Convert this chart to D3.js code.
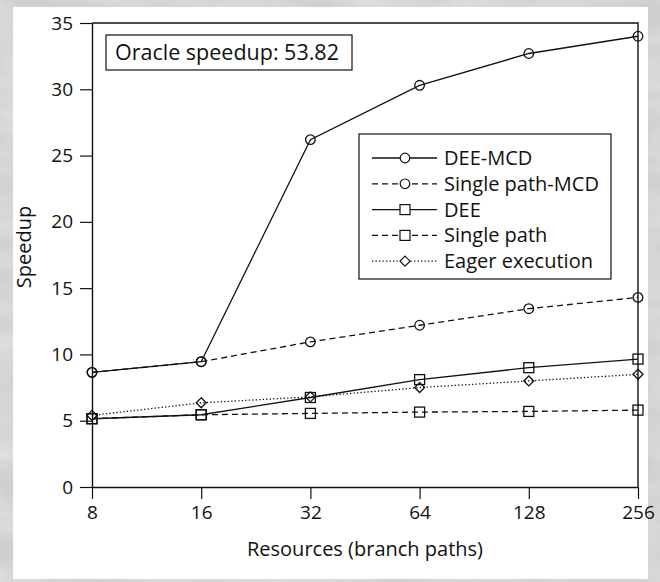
<!DOCTYPE html>
<html>
<head>
<meta charset="utf-8">
<script src="https://cdn.jsdelivr.net/npm/d3@7"></script>
<style>
	html, body { margin: 0; padding: 0; background: #c9c9c9; }
	svg { display: block; }
	text { font-family: 'Open Sans', 'DejaVu Sans', sans-serif; fill: #111; }
</style>
</head>
<body>
<svg id="chart" width="660" height="582"></svg>
<script>
const resources = [8, 16, 32, 64, 128, 256]
const yTicks = [0, 5, 10, 15, 20, 25, 30, 35]

const deeMcd = [8.65, 9.45, 26.2, 30.3, 32.7, 34.0]
const singlePathMcd = [8.65, 9.45, 10.95, 12.2, 13.45, 14.3]
const dee = [5.15, 5.45, 6.75, 8.1, 9.0, 9.65]
const singlePath = [5.15, 5.45, 5.55, 5.65, 5.7, 5.8]
const eager = [5.4, 6.35, 6.8, 7.5, 8.0, 8.5]

const seriesNames = ['DEE-MCD', 'Single path-MCD', 'DEE', 'Single path', 'Eager execution']
const oracleText = 'Oracle speedup: 53.82'

const width = 660
const height = 582
const margin = { top: 23, right: 22, bottom: 95, left: 92 }

const series = [
	{ name: seriesNames[0], values: deeMcd, dash: null, marker: 'circle' },
	{ name: seriesNames[1], values: singlePathMcd, dash: '6,4', marker: 'circle' },
	{ name: seriesNames[2], values: dee, dash: null, marker: 'square' },
	{ name: seriesNames[3], values: singlePath, dash: '6,4', marker: 'square' },
	{ name: seriesNames[4], values: eager, dash: '1.3,2.2', marker: 'diamond' }
]

const svg = d3.select('#chart')

// textured grey frame like the scanned page
const defs = svg.append('defs')
const filter = defs.append('filter').attr('id', 'marble')
	.attr('x', 0).attr('y', 0).attr('width', '100%').attr('height', '100%')
filter.append('feTurbulence')
	.attr('type', 'fractalNoise')
	.attr('baseFrequency', '0.012 0.03')
	.attr('numOctaves', 4)
	.attr('seed', 3)
filter.append('feColorMatrix')
	.attr('type', 'matrix')
	.attr('values', '0 0 0 0 0.76  0 0 0 0 0.76  0 0 0 0 0.76  0.9 0.9 0.9 0 -1.0')
	.attr('result', 'noise')
filter.append('feFlood').attr('flood-color', '#cfcfcf').attr('result', 'base')
filter.append('feComposite').attr('in', 'noise').attr('in2', 'base').attr('operator', 'over')

svg.append('rect')
	.attr('width', width).attr('height', height)
	.attr('filter', 'url(#marble)')

svg.append('rect')
	.attr('x', 13).attr('y', 7)
	.attr('width', 635).attr('height', 572)
	.attr('fill', '#fff')

const x = d3.scaleLog()
	.base(2)
	.domain([8, 256])
	.range([margin.left, width - margin.right])

const y = d3.scaleLinear()
	.domain([0, 35])
	.range([height - margin.bottom, margin.top])

const xAxis = d3.axisBottom(x)
	.tickValues(resources)
	.tickFormat(d3.format('d'))
	.tickSize(12)
	.tickSizeOuter(0)
	.tickPadding(7)

const yAxis = d3.axisLeft(y)
	.tickValues(yTicks)
	.tickSize(12)
	.tickSizeOuter(0)
	.tickPadding(7)

const gx = svg.append('g')
	.attr('transform', `translate(0,${y(0)})`)
	.call(xAxis)
const gy = svg.append('g')
	.attr('transform', `translate(${x(8)},0)`)
	.call(yAxis)

;[gx, gy].forEach((g) => {
	g.select('.domain').attr('stroke', '#111').attr('stroke-width', 1.4)
	g.selectAll('.tick line').attr('stroke', '#111').attr('stroke-width', 1.2)
	g.selectAll('.tick text')
		.attr('font-size', 19)
		.attr('font-family', null)
		.attr('fill', '#111')
})

// top and right frame lines
svg.append('path')
	.attr('d', `M${x(8)},${y(35)}H${x(256)}V${y(0)}`)
	.attr('fill', 'none')
	.attr('stroke', '#111')
	.attr('stroke-width', 1.4)

svg.append('text')
	.attr('x', (x(8) + x(256)) / 2)
	.attr('y', 556)
	.attr('text-anchor', 'middle')
	.attr('font-size', 20)
	.text('Resources (branch paths)')

svg.append('text')
	.attr('transform', `translate(31,${(y(0) + y(35)) / 2 - 8}) rotate(-90)`)
	.attr('text-anchor', 'middle')
	.attr('font-size', 20)
	.text('Speedup')

const drawMarker = (sel, type, cx, cy) => {
	if (type === 'circle') {
		sel.append('circle').attr('cx', cx).attr('cy', cy).attr('r', 4.8)
	} else if (type === 'square') {
		sel.append('rect').attr('x', cx - 5).attr('y', cy - 5).attr('width', 10).attr('height', 10)
	} else {
		sel.append('path').attr('d', `M${cx},${cy - 5}L${cx + 5},${cy}L${cx},${cy + 5}L${cx - 5},${cy}Z`)
	}
}

const line = d3.line()
	.x((d, i) => x(resources[i]))
	.y((d) => y(d))

const plot = svg.append('g')
series.slice().reverse().forEach((s) => {
	plot.append('path')
		.datum(s.values)
		.attr('d', line)
		.attr('fill', 'none')
		.attr('stroke', '#111')
		.attr('stroke-width', 1.3)
		.attr('stroke-dasharray', s.dash)
	const m = plot.append('g')
		.attr('fill', 'none')
		.attr('stroke', '#111')
		.attr('stroke-width', 1.3)
	s.values.forEach((v, i) => drawMarker(m, s.marker, x(resources[i]), y(v)))
})

// oracle box
svg.append('rect')
	.attr('x', 106).attr('y', 35)
	.attr('width', 246).attr('height', 35)
	.attr('fill', '#fff')
	.attr('stroke', '#111')
	.attr('stroke-width', 1.2)
svg.append('text')
	.attr('x', 115).attr('y', 60)
	.attr('font-size', 21.5)
	.text(oracleText)

// legend
const legend = svg.append('g')
legend.append('rect')
	.attr('x', 359).attr('y', 134)
	.attr('width', 252).attr('height', 145)
	.attr('fill', '#fff')
	.attr('stroke', '#111')
	.attr('stroke-width', 1.2)

series.forEach((s, i) => {
	const ly = 158 + i * 25.8
	const row = legend.append('g')
	row.append('line')
		.attr('x1', 372).attr('x2', 437)
		.attr('y1', ly).attr('y2', ly)
		.attr('stroke', '#111')
		.attr('stroke-width', 1.3)
		.attr('stroke-dasharray', s.dash)
	const m = row.append('g')
		.attr('fill', '#fff')
		.attr('stroke', '#111')
		.attr('stroke-width', 1.2)
	drawMarker(m, s.marker, 405, ly)
	row.append('text')
		.attr('x', 444).attr('y', ly + 7)
		.attr('font-size', 20)
		.text(s.name)
})
</script>
</body>
</html>
